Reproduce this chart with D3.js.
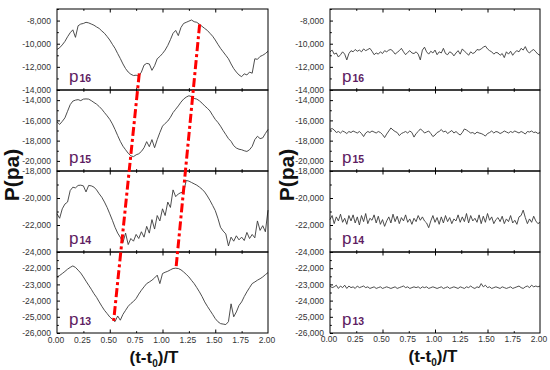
<!DOCTYPE html>
<html><head><meta charset="utf-8">
<script src="https://cdn.jsdelivr.net/npm/d3@7"></script>
<style>body{margin:0;background:#fff}svg{display:block}</style>
</head><body>
<svg id="c" width="550" height="370"></svg>
<script>
// ---------- DATA ----------
const panelNames = ["16","15","14","13"];
const xTicks = [0,0.25,0.5,0.75,1.0,1.25,1.5,1.75,2.0];
const xMinor = [0.25,0.75,1.25,1.75];
const leftStep = 0.025, rightStep = 0.02;

const yDomains = [[-14000,-7000],[-21000,-13000],[-24000,-18000],[-26000,-21000]];
const yMajor = [[-8000,-10000,-12000,-14000],[-14000,-16000,-18000,-20000],[-18000,-20000,-22000,-24000],[-22000,-23000,-24000,-25000,-26000]];
const yMinor = [[-7000,-9000,-11000,-13000],[-13000,-15000,-17000,-19000,-21000],[-19000,-21000,-23000],[-21500,-22500,-23500,-24500,-25500]];

const left16 = [-10500,-10350,-10100,-9800,-9400,-9050,-8800,-9450,-8450,-8300,
-8250,-8150,-8200,-8300,-8400,-8550,-8680,-8900,-9100,-9380,
-9680,-10050,-10400,-10850,-11280,-11750,-12150,-12450,-12640,-12750,
-12720,-12800,-12450,-11850,-11700,-11750,-12300,-11900,-11300,-11100,
-10850,-10550,-10150,-9650,-9100,-8850,-9300,-8600,-8250,-8150,
-8050,-7950,-8100,-8150,-8320,-8500,-8680,-8850,-9100,-9350,
-9680,-10050,-10400,-10700,-11000,-11300,-11750,-12150,-12450,-12700,
-12850,-12600,-12700,-12450,-12550,-11300,-11350,-11100,-11000,-10850,-10650];
const left15 = [-16150,-16400,-16100,-15750,-15100,-14450,-14100,-14000,-13950,-14050,
-13900,-13880,-13900,-14050,-14230,-14400,-14630,-14900,-15230,-15550,
-15900,-16350,-16900,-17500,-18070,-18550,-18900,-19250,-19500,-19580,
-19400,-19300,-19070,-18700,-18100,-18600,-17900,-18700,-17900,-17200,
-16570,-16300,-16070,-15700,-15230,-14900,-14570,-14200,-13900,-13700,
-13570,-13650,-13830,-13900,-14070,-14300,-14570,-14800,-15070,-15500,
-15900,-16200,-16570,-17000,-17400,-17800,-18070,-18500,-18730,-18850,
-18900,-19000,-19070,-18900,-18570,-17900,-17570,-17800,-17730,-17300,-16900];
const left14 = [-21170,-21500,-20800,-20450,-20300,-19450,-19200,-19250,-19070,-19050,
-19100,-19550,-19070,-19100,-19190,-19400,-19690,-19950,-20300,-20700,
-21170,-21650,-22170,-22600,-22910,-23300,-22600,-23450,-23000,-23200,
-22700,-23000,-22500,-22900,-22100,-22600,-21600,-22300,-21300,-21700,
-20800,-21300,-20300,-20700,-19400,-19900,-19700,-19600,-19550,-18700,
-18750,-18850,-18950,-19050,-19190,-19350,-19560,-19850,-20180,-20550,
-20930,-21500,-22170,-22450,-22660,-23550,-22900,-23200,-22800,-23100,
-22900,-23150,-22550,-23000,-22700,-22950,-21700,-22400,-22050,-22500,-20900];
const left13 = [-22540,-22450,-22330,-22200,-22060,-21950,-21860,-21950,-22120,-22300,
-22540,-22800,-23050,-23300,-23570,-23800,-24080,-24350,-24600,-24800,
-25010,-25150,-25300,-24950,-25210,-24850,-24600,-24350,-24180,-24050,
-23870,-23600,-23360,-23150,-22950,-22850,-22740,-22600,-22430,-22950,
-22330,-22250,-22190,-22100,-22020,-22000,-22020,-22100,-22230,-22380,
-22540,-22750,-22950,-23200,-23460,-23750,-24080,-24350,-24600,-24850,
-25110,-25300,-25420,-25450,-25480,-25300,-24200,-25000,-24700,-24300,
-24080,-23750,-23460,-23200,-22950,-22850,-22740,-22650,-22540,-22400,-22270];

const right16 = [-10700,-10550,-10900,-10800,-11150,-10950,-10700,-10900,-11400,-10850,
-10600,-10700,-10500,-10650,-10550,-10700,-10450,-10600,-10500,-10400,
-10650,-10950,-10800,-10900,-10700,-10850,-10600,-10700,-10550,-10500,
-10650,-10900,-10750,-10600,-10400,-10700,-10950,-10750,-10600,-10800,
-10850,-10700,-10900,-11400,-10550,-10300,-10700,-10900,-10650,-10800,
-10550,-10950,-10700,-10800,-10400,-10850,-10950,-10700,-10800,-11050,
-10800,-10600,-10900,-10450,-10650,-10800,-11000,-10700,-10850,-10750,
-10500,-10550,-10450,-10300,-10200,-10450,-10600,-10700,-10900,-10750,
-10800,-11000,-10850,-11200,-10700,-10900,-10650,-11000,-10750,-10600,
-10700,-10400,-10550,-10250,-10650,-10800,-10600,-10500,-10700,-10900,-11000];
const right15 = [-16900,-16800,-16950,-17200,-17100,-17250,-17050,-17150,-17300,-17100,
-17200,-17050,-17150,-17250,-17100,-17300,-17600,-17250,-17100,-17200,
-17050,-17150,-17250,-17100,-17200,-17400,-17700,-17350,-17050,-16750,
-16950,-17100,-17200,-17500,-17300,-17200,-17100,-17250,-17050,-17200,
-17650,-17300,-17100,-16850,-17000,-17250,-17150,-17050,-17300,-17600,
-17450,-17200,-17100,-16900,-17150,-17050,-17300,-17150,-17000,-17250,
-17100,-17300,-17450,-17200,-16850,-16950,-17100,-17250,-17200,-17350,
-17150,-17250,-17300,-17400,-17550,-17300,-17200,-17050,-17250,-17100,
-17150,-17300,-17200,-17050,-17150,-17250,-17100,-17200,-17050,-17150,
-17250,-17100,-17200,-17350,-17100,-17150,-17050,-17200,-17150,-17300,-17200];
const right14 = [-21600,-21300,-21900,-21400,-21700,-21200,-21800,-21500,-21950,-21300,
-21700,-21250,-21850,-21400,-22000,-21300,-21750,-21150,-21900,-21500,
-21650,-21250,-21850,-21350,-21950,-21600,-22100,-21700,-21400,-21850,
-21200,-21750,-21350,-21900,-21450,-21700,-21250,-21800,-21550,-21950,
-21500,-21750,-21300,-21650,-21400,-21700,-21850,-22200,-21700,-21300,
-21800,-21450,-21950,-21400,-21850,-21300,-21750,-21450,-21900,-21550,
-21700,-21250,-21800,-21400,-21750,-21150,-21850,-21300,-21700,-21500,
-21800,-21250,-21900,-21350,-21800,-21150,-21650,-21400,-21900,-21600,
-21450,-21750,-21350,-21900,-21550,-21750,-21300,-21850,-21650,-21950,
-21400,-21300,-20900,-21450,-21900,-21550,-21800,-21350,-21700,-21900,-21800];
const right13 = [-23100,-23200,-23150,-23050,-23250,-23100,-23200,-23050,-23250,-23100,
-23200,-23150,-23250,-23100,-23200,-23150,-23100,-23200,-23150,-23250,
-23200,-23150,-23250,-23200,-23150,-23250,-23200,-23150,-23200,-23250,
-23200,-23150,-23250,-23200,-23150,-23100,-23200,-23150,-23250,-23200,
-23150,-23200,-23150,-23250,-23150,-23200,-23150,-23250,-23200,-23150,
-23200,-23250,-23200,-23150,-23250,-23200,-23150,-23250,-23200,-23150,
-23200,-23250,-23150,-23200,-23250,-23150,-23200,-23100,-23200,-23250,
-23150,-23200,-22950,-23150,-23050,-23200,-23150,-23250,-23200,-23150,
-23200,-23250,-23150,-23200,-23250,-23200,-23150,-23250,-23200,-23150,
-23100,-23200,-23250,-23150,-23100,-23200,-23050,-23150,-23100,-23150,-23100];

// red dash-dot phase lines: [t at p16, value at p16, t at p13, value at p13]
const redT16 = [0.780, 1.352];
const redV16 = [-12557, -8322];
const redT13 = [0.537, 1.128];
const redV13 = [-25250, -22000];

// ---------- DRAW ----------
const svg = d3.select("#c");
const FONT = "'Liberation Sans', Arial, sans-serif";
const panelTops = [9, 90, 171, 252], panelBottom = 333;
const panelH = 81;
const cols = [
  {x0:57, x1:268, series:[left16,left15,left14,left13], step:leftStep, xlabY:345, titleX:154, titleY:363, ytX:19},
  {x0:330, x1:540, series:[right16,right15,right14,right13], step:rightStep, xlabY:344, titleX:433, titleY:362, ytX:294}
];
const loc = d3.formatLocale({decimal:".", thousands:",", grouping:[3], currency:["",""], minus:"-"});
const fmt = loc.format(",");

cols.forEach((col, ci) => {
  const x = d3.scaleLinear().domain([0,2]).range([col.x0, col.x1]);
  const yScales = [];
  panelNames.forEach((name, pi) => {
    const top = panelTops[pi], bot = top + panelH;
    const y = d3.scaleLinear().domain(yDomains[pi]).range([bot, top]);
    yScales.push(y);
    const g = svg.append("g");
    const data = col.series[pi].map((v,i)=>[i*col.step, v]);
    g.append("path").datum(data)
      .attr("fill","none").attr("stroke","#3a3a3a").attr("stroke-width",0.9)
      .attr("d", d3.line().x(d=>x(d[0])).y(d=>y(d[1])));
    const ya = g.append("g").attr("transform",`translate(${col.x0},0)`)
      .call(d3.axisLeft(y).tickValues(yMajor[pi]).tickFormat(fmt).tickSize(-3).tickPadding(6));
    ya.select(".domain").remove();
    ya.selectAll("text").attr("font-family",FONT).attr("font-size","8.5px").attr("fill","#333");
    ya.selectAll("line").attr("stroke","#000");
    const ym = g.append("g").attr("transform",`translate(${col.x0},0)`)
      .call(d3.axisLeft(y).tickValues(yMinor[pi]).tickFormat("").tickSize(-1.8));
    ym.select(".domain").remove();
    const xb = g.append("g").attr("transform",`translate(0,${bot})`)
      .call(d3.axisBottom(x).tickValues([0.5,1.0,1.5]).tickFormat("").tickSize(-3.5));
    xb.select(".domain").remove();
    const xbm = g.append("g").attr("transform",`translate(0,${bot})`)
      .call(d3.axisBottom(x).tickValues(xMinor).tickFormat("").tickSize(-1.8));
    xbm.select(".domain").remove();
    const xt = g.append("g").attr("transform",`translate(0,${top})`)
      .call(d3.axisTop(x).tickValues([0.5,1.0,1.5]).tickFormat("").tickSize(-3.5));
    xt.select(".domain").remove();
    const xtm = g.append("g").attr("transform",`translate(0,${top})`)
      .call(d3.axisTop(x).tickValues(xMinor).tickFormat("").tickSize(-1.8));
    xtm.select(".domain").remove();
    g.append("rect").attr("x",col.x0).attr("y",top).attr("width",col.x1-col.x0).attr("height",panelH)
      .attr("fill","none").attr("stroke","#000").attr("stroke-width",1);
    const lab = g.append("text").attr("x", col.x0 + 12).attr("y", bot - 8)
      .attr("font-family",FONT).attr("fill","#5e1d62");
    lab.append("tspan").attr("font-size","17px").text("p");
    lab.append("tspan").attr("font-size","10.5px").attr("font-weight","bold").attr("dx",1).text(name);
  });
  const xl = svg.append("g").attr("transform",`translate(0,${panelBottom})`)
    .call(d3.axisBottom(x).tickValues(xTicks).tickFormat(d3.format(".2f")).tickSize(0).tickPadding(col.xlabY-panelBottom-8));
  xl.select(".domain").remove();
  xl.selectAll("text").attr("font-family",FONT).attr("font-size","8.5px").attr("fill","#333").attr("dx",-1.5);
  const xtit = svg.append("text").attr("x",col.titleX).attr("y",col.titleY).attr("text-anchor","middle")
    .attr("font-family",FONT).attr("font-weight","bold").attr("font-size","17px").attr("fill","#111");
  xtit.append("tspan").text("(t-t");
  xtit.append("tspan").attr("font-size","10px").attr("dy",4).text("0");
  xtit.append("tspan").attr("dy",-4).text(")/T");
  svg.append("text").attr("transform",`translate(${col.ytX},175) rotate(-90)`).attr("text-anchor","middle")
    .attr("font-family",FONT).attr("font-weight","bold").attr("font-size","21px").attr("fill","#111")
    .text("P(pa)");
  if (ci === 0) {
    redT16.forEach((t16, k) => {
      svg.append("line")
        .attr("x1", x(t16)).attr("y1", yScales[0](redV16[k]))
        .attr("x2", x(redT13[k])).attr("y2", yScales[3](redV13[k]))
        .attr("stroke","#ff0000").attr("stroke-width",3)
        .attr("stroke-dasharray","9,3,3,3");
    });
  }
});
</script>
</body></html>
